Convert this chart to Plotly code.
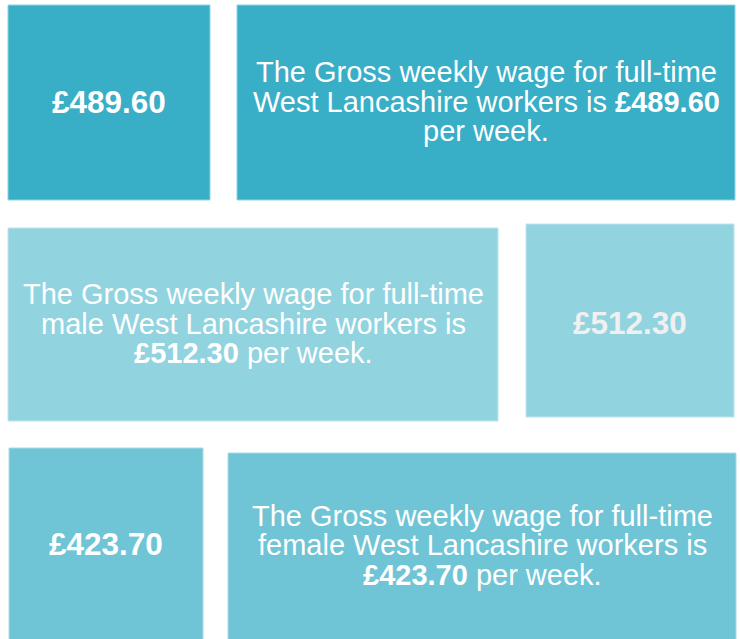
import plotly.graph_objects as go

# ---- data ----
wages = [489.60, 512.30, 423.70]
groups = ["", "male ", "female "]
row_labels = ["All", "Male", "Female"]
area = "West Lancashire"

fills = ["#38AEC7", "#92D3E0", "#6FC5D6"]
edges = ["#8FD3E2", "#BDE6EE", "#A8DCE7"]
value_colors = ["#FFFFFF", "#F0F0F0", "#FFFFFF"]
value_dy = [0, 3, 0]

# box geometry (pixels; x0, x1, y0, y1)
value_boxes = [(8, 210, 5, 200), (526, 734, 224, 417), (9, 203, 448, 642)]
text_boxes = [(237, 735, 5, 200), (8, 498, 228, 421), (228, 736, 453, 642)]

W, H = 740, 639
fig = go.Figure()
fig.add_trace(go.Scatter(x=[0, W], y=[0, H], mode="markers", marker=dict(opacity=0), hoverinfo="skip", showlegend=False))

shapes = []
annotations = []
FONT = "Liberation Sans, Arial, sans-serif"
body = 29
big = 31.5
spacing = 29.5
tweak = -1

for i, w in enumerate(wages):
    money = "£%.2f" % w
    vx0, vx1, vy0, vy1 = value_boxes[i]
    tx0, tx1, ty0, ty1 = text_boxes[i]
    for (x0, x1, y0, y1) in (value_boxes[i], text_boxes[i]):
        shapes.append(dict(type="rect", xref="x", yref="y", x0=x0, x1=x1, y0=y0, y1=y1,
                           fillcolor=fills[i], line=dict(color=edges[i], width=1), layer="below"))
    annotations.append(dict(x=(vx0 + vx1) / 2, y=(vy0 + vy1) / 2 + tweak + value_dy[i], xref="x", yref="y",
                            text="<b>%s</b>" % money, showarrow=False,
                            font=dict(family=FONT, size=big, color=value_colors[i]),
                            xanchor="center", yanchor="middle"))
    if groups[i] == "":
        lines = ["The Gross weekly wage for full-time",
                 "%s workers is <b>%s</b>" % (area, money),
                 "per week."]
    else:
        lines = ["The Gross weekly wage for full-time",
                 "%s%s workers is" % (groups[i], area),
                 "<b>%s</b> per week." % money]
    cy = (ty0 + ty1) / 2
    if i == 2:
        cy = 546
    for j, ln in enumerate(lines):
        annotations.append(dict(x=(tx0 + tx1) / 2, y=cy + (j - 1) * spacing + tweak, xref="x", yref="y",
                                text=ln, showarrow=False,
                                font=dict(family=FONT, size=body, color="#FFFFFF"),
                                xanchor="center", yanchor="middle"))

fig.update_layout(
    width=W, height=H, margin=dict(l=0, r=0, t=0, b=0),
    paper_bgcolor="#FFFFFF", plot_bgcolor="#FFFFFF",
    xaxis=dict(range=[0, W], visible=False, fixedrange=True),
    yaxis=dict(range=[H, 0], visible=False, fixedrange=True),
    shapes=shapes, annotations=annotations, showlegend=False,
)
fig.write_html("out.html", config={"displayModeBar": False},
               post_script="document.body.style.margin='0';document.body.style.overflow='hidden';")
